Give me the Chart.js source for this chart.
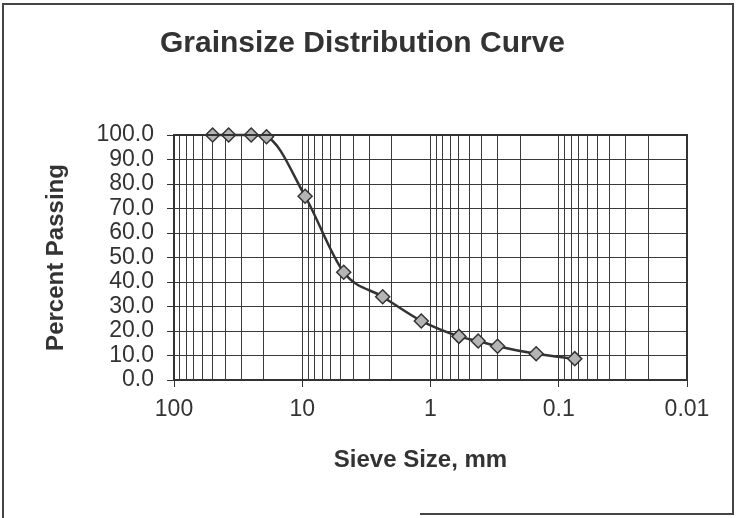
<!doctype html>
<html lang="en">
  <head>
    <meta charset="utf-8">
    <title>Grainsize Distribution Curve</title>
    <script src="https://cdn.jsdelivr.net/npm/chart.js"></script>
    <style>
      body { margin: 0; background: #fff; }
    </style>
  </head>
  <body>
    <canvas id="gsdChart" width="736" height="518"></canvas>
    <script>
      // sieve sizes (mm) and percent passing
      const sieveSizes = [50, 37.5, 25, 19, 9.5, 4.75, 2.36, 1.18, 0.6, 0.425, 0.3, 0.15, 0.075];
      const percentPassing = [100, 100, 100, 99.3, 75.0, 44.0, 34.0, 24.1, 17.8, 15.9, 13.8, 10.7, 8.7];

      const xDecades = [100, 10, 1, 0.1, 0.01];
      const xTickLabels = ['100', '10', '1', '0.1', '0.01'];
      const yTicks = [0, 10, 20, 30, 40, 50, 60, 70, 80, 90, 100];

      // log grid: 1..9 in every decade
      const xGridValues = [100];
      for (const d of [10, 1, 0.1, 0.01]) {
        for (let m = 1; m <= 9; m++) xGridValues.push(parseFloat((m * d).toPrecision(3)));
      }

      function isDecade(v) {
        return xDecades.some(d => Math.abs(v - d) < d * 1e-6);
      }

      const frame = {
        id: 'frame',
        afterDraw(chart) {
          const ctx = chart.ctx;
          const a = chart.chartArea;
          ctx.save();
          ctx.strokeStyle = '#333';
          ctx.lineWidth = 2;
          ctx.strokeRect(a.left, a.top, a.right - a.left, a.bottom - a.top);
          // outer border of the chart sheet
          ctx.strokeStyle = '#444';
          ctx.lineWidth = 2;
          ctx.beginPath();
          ctx.moveTo(420, 514);
          ctx.lineTo(733, 514);
          ctx.lineTo(733, 4);
          ctx.lineTo(3, 4);
          ctx.lineTo(3, 518);
          ctx.stroke();
          ctx.restore();
        }
      };

      Chart.defaults.font.family = '"Liberation Sans", Arial, sans-serif';
      Chart.defaults.color = '#333';

      const ctx = document.getElementById('gsdChart').getContext('2d');
      const gsdChart = new Chart(ctx, {
        type: 'line',
        data: {
          datasets: [{
            data: sieveSizes.map((s, i) => ({ x: s, y: percentPassing[i] })),
            borderColor: '#333',
            borderWidth: 2.5,
            cubicInterpolationMode: 'monotone',
            pointStyle: 'rectRot',
            pointRadius: 7,
            pointBackgroundColor: '#b4b4b4',
            pointBorderColor: '#333',
            pointBorderWidth: 1.5,
            clip: false
          }]
        },
        options: {
          responsive: false,
          animation: false,
          layout: { padding: { left: 38, right: 49, top: 0, bottom: 40 } },
          plugins: {
            legend: { display: false },
            tooltip: { enabled: false },
            title: {
              display: true,
              text: 'Grainsize Distribution Curve',
              color: '#333',
              font: { size: 30, weight: 'bold' },
              padding: { top: 26, bottom: 73 }
            }
          },
          scales: {
            x: {
              type: 'logarithmic',
              reverse: true,
              min: 0.01,
              max: 100,
              afterBuildTicks(scale) {
                scale.ticks = xGridValues.map(v => ({ value: v }));
              },
              afterFit(scale) {
                scale.height = 98;
              },
              ticks: {
                autoSkip: false,
                maxRotation: 0,
                padding: 9,
                font: { size: 23 },
                callback(value) {
                  const i = xDecades.findIndex(d => Math.abs(value - d) < d * 1e-6);
                  return i >= 0 ? xTickLabels[i] : '';
                }
              },
              grid: {
                color: '#3a3a3a',
                lineWidth: 1,
                tickLength: 7,
                tickColor: c => (c.tick && isDecade(c.tick.value)) ? '#333' : 'rgba(0,0,0,0)'
              },
              border: { display: false },
              title: {
                display: true,
                // trailing spaces nudge the centred title a little left, as in the original
                text: 'Sieve Size, mm   ',
                font: { size: 24, weight: 'bold' },
                padding: { top: 25, bottom: 3 }
              }
            },
            y: {
              min: 0,
              max: 100,
              afterBuildTicks(scale) {
                scale.ticks = yTicks.map(v => ({ value: v }));
              },
              afterFit(scale) {
                scale.width = 136;
              },
              ticks: {
                autoSkip: false,
                padding: 13,
                font: { size: 23 },
                callback: value => value.toFixed(1)
              },
              grid: {
                color: '#3a3a3a',
                lineWidth: 1,
                tickLength: 7,
                tickColor: '#333'
              },
              border: { display: false },
              title: {
                display: true,
                text: 'Percent Passing',
                font: { size: 24, weight: 'bold' },
                padding: { top: 4, bottom: 4 }
              }
            }
          }
        },
        plugins: [frame]
      });
    </script>
  </body>
</html>
